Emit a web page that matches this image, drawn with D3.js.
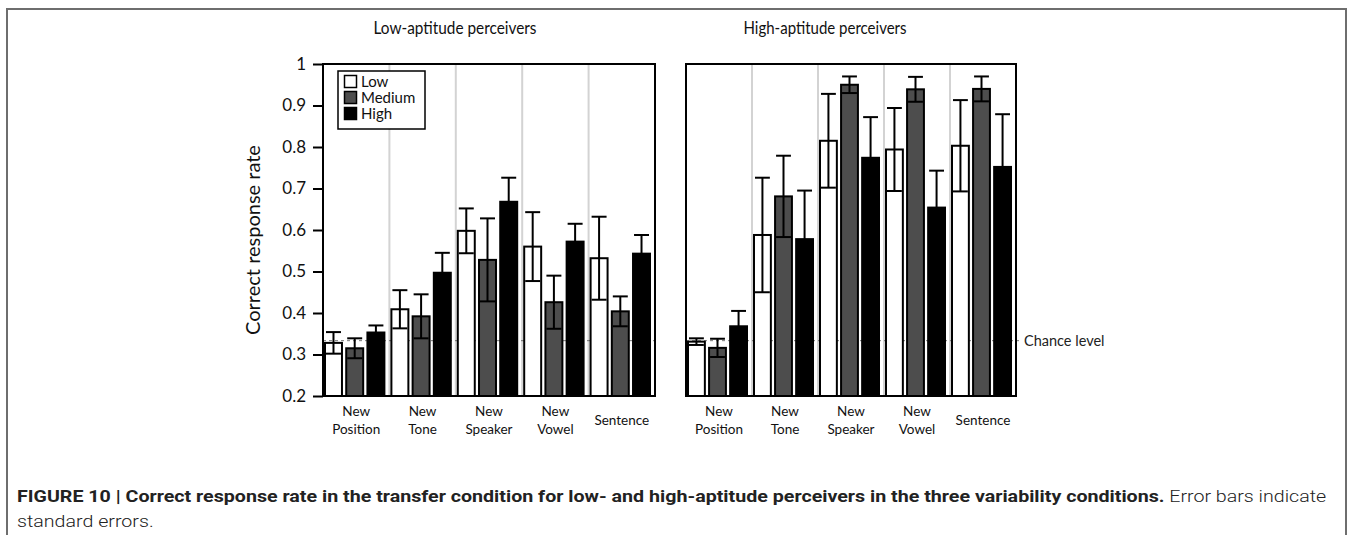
<!DOCTYPE html>
<html>
<head>
<meta charset="utf-8">
<script src="https://cdnjs.cloudflare.com/ajax/libs/d3/7.8.5/d3.min.js"></script>
<style>
  body { margin: 0; background: #fff; }
  svg { display: block; }
</style>
</head>
<body>
<script>
"use strict";
(function(){
    // categories and groups
    const conditions = ["New Position", "New Tone", "New Speaker", "New Vowel", "Sentence"]
    const conditionLines = [["New", "Position"], ["New", "Tone"], ["New", "Speaker"], ["New", "Vowel"], ["Sentence"]]
    const levels = ["Low", "Medium", "High"]
    const yTicks = [0.2, 0.3, 0.4, 0.5, 0.6, 0.7, 0.8, 0.9, 1]
    const chanceLevel = 1 / 3

    // low-aptitude perceivers: means and standard errors
    const lowAptLow = [0.328, 0.409, 0.598, 0.560, 0.532]
    const lowAptLowSE = [0.026, 0.046, 0.054, 0.083, 0.100]
    const lowAptMed = [0.315, 0.392, 0.528, 0.426, 0.404]
    const lowAptMedSE = [0.024, 0.053, 0.100, 0.064, 0.036]
    const lowAptHigh = [0.353, 0.497, 0.668, 0.572, 0.543]
    const lowAptHighSE = [0.017, 0.048, 0.058, 0.043, 0.045]

    // high-aptitude perceivers
    const highAptLow = [0.331, 0.588, 0.815, 0.794, 0.803]
    const highAptLowSE = [0.008, 0.138, 0.113, 0.100, 0.110]
    const highAptMed = [0.316, 0.681, 0.950, 0.939, 0.940]
    const highAptMedSE = [0.022, 0.098, 0.020, 0.030, 0.030]
    const highAptHigh = [0.368, 0.578, 0.774, 0.654, 0.752]
    const highAptHighSE = [0.037, 0.117, 0.098, 0.089, 0.127]

    const fills = { Low: "#ffffff", Medium: "#4d4d4d", High: "#000000" }
    const chartFont = "Lato, 'Open Sans', sans-serif"

    const size = { width: 1349, height: 535 }
    const plotTop = 64
    const plotBottom = 396

    const svg = d3.select("body").append("svg")
        .attr("width", size.width)
        .attr("height", size.height)

    // outer figure frame (runs off the bottom)
    svg.append("rect")
        .attr("x", 7).attr("y", 9)
        .attr("width", 1339).attr("height", 560)
        .attr("fill", "none")
        .attr("stroke", "#6e6e6e")
        .attr("stroke-width", 2)

    const y = d3.scaleLinear().domain([0.2, 1]).range([plotBottom, plotTop])

    function buildRows(lowM, lowS, medM, medS, highM, highS) {
        const rows = []
        conditions.forEach((c, i) => {
            rows.push({ cond: c, level: "Low", mean: lowM[i], se: lowS[i] })
            rows.push({ cond: c, level: "Medium", mean: medM[i], se: medS[i] })
            rows.push({ cond: c, level: "High", mean: highM[i], se: highS[i] })
        })
        return rows
    }

    function drawPanel(x0, x1, title, titleX, rows, withAxis, withChanceLabel) {
        const g = svg.append("g")
        const x = d3.scaleBand().domain(conditions).range([x0, x1])
        const xi = d3.scaleBand().domain(levels).range([2, x.bandwidth() - 5]).paddingInner(0.2)

        // group separators
        g.selectAll(".sep")
            .data(conditions.slice(1))
            .enter().append("line")
            .attr("x1", d => x(d)).attr("x2", d => x(d))
            .attr("y1", plotTop).attr("y2", plotBottom)
            .attr("stroke", "#d3d3d3")
            .attr("stroke-width", 2)

        // chance level
        g.append("line")
            .attr("x1", x0).attr("x2", withChanceLabel ? x1 + 4 : x1)
            .attr("y1", y(chanceLevel)).attr("y2", y(chanceLevel))
            .attr("stroke", "#555")
            .attr("stroke-width", 0.8)
            .attr("stroke-dasharray", "3,3")

        if (withChanceLabel) {
            g.append("text")
                .attr("x", x1 + 8)
                .attr("y", y(chanceLevel) + 5)
                .attr("font-family", chartFont)
                .attr("font-size", 14.5)
                .attr("fill", "#222")
                .text("Chance level")
        }

        // bars
        g.selectAll(".bar")
            .data(rows)
            .enter().append("rect")
            .attr("x", d => x(d.cond) + xi(d.level))
            .attr("y", d => y(d.mean))
            .attr("width", xi.bandwidth())
            .attr("height", d => plotBottom - y(d.mean))
            .attr("fill", d => fills[d.level])
            .attr("stroke", "#000")
            .attr("stroke-width", 2)

        // error bars
        const err = g.selectAll(".err").data(rows).enter().append("g")
        const cx = d => x(d.cond) + xi(d.level) + xi.bandwidth() / 2
        const half = xi.bandwidth() / 2 - 1
        err.append("line")
            .attr("x1", cx).attr("x2", cx)
            .attr("y1", d => y(d.mean - d.se)).attr("y2", d => y(d.mean + d.se))
            .attr("stroke", "#000").attr("stroke-width", 2)
        err.append("line")
            .attr("x1", d => cx(d) - half).attr("x2", d => cx(d) + half)
            .attr("y1", d => y(d.mean + d.se)).attr("y2", d => y(d.mean + d.se))
            .attr("stroke", "#000").attr("stroke-width", 2)
        err.append("line")
            .attr("x1", d => cx(d) - half).attr("x2", d => cx(d) + half)
            .attr("y1", d => y(d.mean - d.se)).attr("y2", d => y(d.mean - d.se))
            .attr("stroke", "#000").attr("stroke-width", 2)

        // frame
        g.append("rect")
            .attr("x", x0).attr("y", plotTop)
            .attr("width", x1 - x0).attr("height", plotBottom - plotTop)
            .attr("fill", "none")
            .attr("stroke", "#000")
            .attr("stroke-width", 2)

        if (withAxis) {
            const yAxis = d3.axisLeft(y)
                .tickValues(yTicks)
                .tickFormat(d3.format(".1~f"))
                .tickSize(10)
                .tickPadding(7)
            const ax = g.append("g")
                .attr("transform", `translate(${x0},0)`)
                .call(yAxis)
            ax.select(".domain").remove()
            ax.selectAll(".tick line").attr("stroke-width", 2)
            ax.selectAll(".tick text")
                .attr("font-family", chartFont)
                .attr("font-size", 17)
                .attr("fill", "#111")
        }

        // category labels
        const lab = g.selectAll(".cat")
            .data(conditions)
            .enter().append("text")
            .attr("x", d => x(d) + x.bandwidth() / 2)
            .attr("font-family", chartFont)
            .attr("font-size", 13.5)
            .attr("fill", "#111")
            .attr("text-anchor", "middle")
        lab.each(function(d, i) {
            const lines = conditionLines[i]
            const t = d3.select(this)
            if (lines.length === 1) {
                t.append("tspan").attr("x", x(d) + x.bandwidth() / 2).attr("y", 425).text(lines[0])
            } else {
                lines.forEach((l, j) => {
                    t.append("tspan").attr("x", x(d) + x.bandwidth() / 2).attr("y", 416 + j * 18).text(l)
                })
            }
        })

        // panel title
        svg.append("text")
            .attr("x", titleX).attr("y", 34)
            .attr("text-anchor", "middle")
            .attr("font-family", chartFont)
            .attr("font-size", 17.5)
            .attr("fill", "#111")
            .attr("textLength", 163)
            .attr("lengthAdjust", "spacingAndGlyphs")
            .text(title)

        return g
    }

    drawPanel(323, 655, "Low-aptitude perceivers", 455,
        buildRows(lowAptLow, lowAptLowSE, lowAptMed, lowAptMedSE, lowAptHigh, lowAptHighSE), true, false)
    drawPanel(686, 1016, "High-aptitude perceivers", 825,
        buildRows(highAptLow, highAptLowSE, highAptMed, highAptMedSE, highAptHigh, highAptHighSE), false, true)

    // y-axis title
    svg.append("text")
        .attr("transform", "translate(260,240) rotate(-90)")
        .attr("text-anchor", "middle")
        .attr("font-family", chartFont)
        .attr("font-size", 20)
        .attr("fill", "#111")
        .text("Correct response rate")

    // legend
    const legend = svg.append("g").attr("transform", "translate(338,71)")
    legend.append("rect")
        .attr("width", 87).attr("height", 58)
        .attr("fill", "#fff")
        .attr("stroke", "#000")
        .attr("stroke-width", 1.5)
    levels.forEach((lv, i) => {
        legend.append("rect")
            .attr("x", 6.5).attr("y", 4.5 + i * 16)
            .attr("width", 12).attr("height", 12)
            .attr("fill", fills[lv])
            .attr("stroke", "#000")
            .attr("stroke-width", 1.5)
        legend.append("text")
            .attr("x", 23).attr("y", 15.5 + i * 16)
            .attr("font-family", chartFont)
            .attr("font-size", 15)
            .attr("fill", "#111")
            .text(lv)
    })

    // caption, squeezed horizontally to the condensed look of the original
    const capFont = "Roboto, 'Liberation Sans', sans-serif"
    const capSize = 17
    const capG = svg.append("g")
    const cap1 = capG.append("text")
        .attr("x", 0).attr("y", 0)
        .attr("font-family", capFont)
        .attr("font-size", capSize)
        .attr("fill", "#222")
    cap1.append("tspan").attr("font-weight", "bold")
        .text("FIGURE 10 | Correct response rate in the transfer condition for low- and high-aptitude perceivers in the three variability conditions.")
    cap1.append("tspan").attr("font-weight", 300).text(" Error bars indicate")
    const cap2 = capG.append("text")
        .attr("x", 0).attr("y", 25)
        .attr("font-family", capFont)
        .attr("font-size", capSize)
        .attr("font-weight", 300)
        .attr("fill", "#222")
        .text("standard errors.")
    const squeeze = 1310 / cap1.node().getComputedTextLength()
    capG.attr("transform", `translate(17,502) scale(${squeeze},1)`)
})()
</script>
</body>
</html>
